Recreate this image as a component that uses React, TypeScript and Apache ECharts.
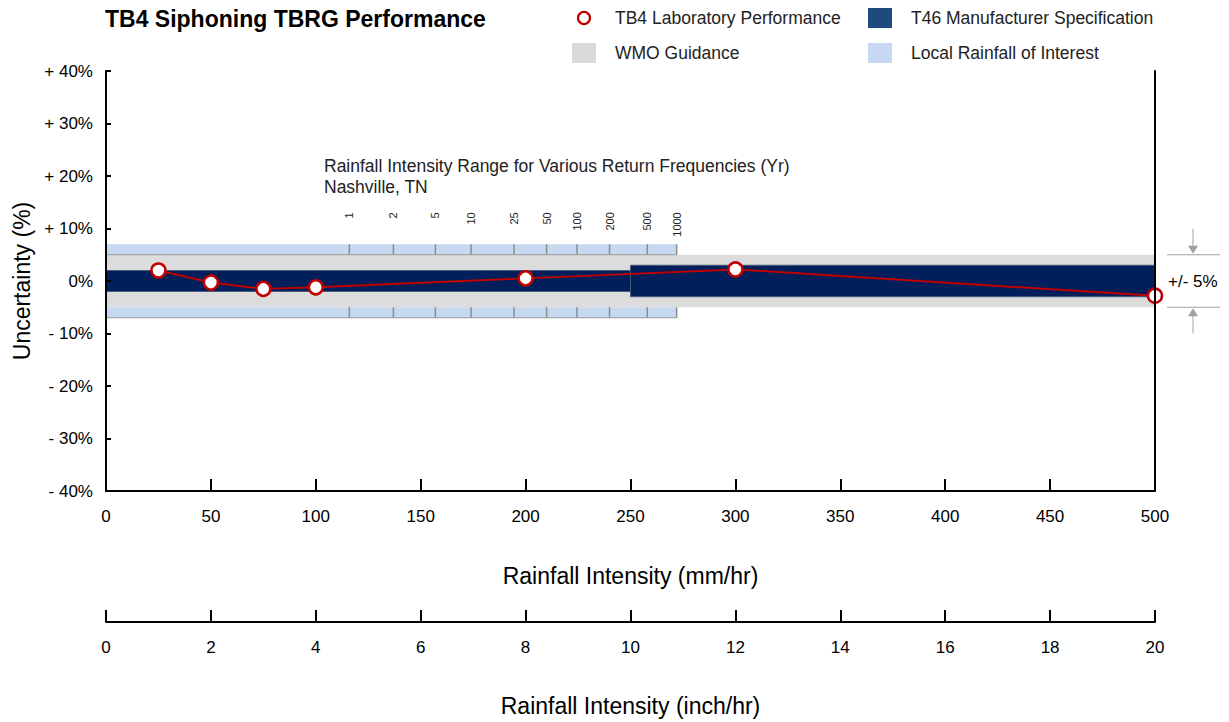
import React, { useEffect, useRef } from 'react';
import * as echarts from 'echarts';

const FONT = '"Liberation Sans", Arial, sans-serif';

// Measured performance
const intensityMm = [25, 50, 75, 100, 200, 300, 500];
const uncertaintyPct = [2.0, -0.3, -1.5, -1.2, 0.5, 2.2, -2.8];

// Bands: [xStart, xEnd, yLow, yHigh]
const wmoBand = [[0, 500, -5, 5]];
const localBand = [[0, 272, 5, 7], [0, 272, -7, -5]];
const specBand = [[0, 250, -2, 2], [250, 500, -3, 3]];

// Return frequencies (Yr) and their rainfall intensities (mm/hr)
const returnPeriods = ['1', '2', '5', '10', '25', '50', '100', '200', '500', '1000'];
const returnIntensity = [116, 137, 157, 174, 194.5, 210, 224.5, 240, 258, 272];

// Axis ranges
const mmAxis = { min: 0, max: 500, interval: 50 };
const inchAxis = { min: 0, max: 20, interval: 2 };
const pctAxis = { min: -40, max: 40, interval: 10 };

const legendItems = [
  { name: 'TB4 Laboratory Performance', kind: 'circle', color: '#c00000' },
  { name: 'T46 Manufacturer Specification', kind: 'rect', color: '#1f4a7e' },
  { name: 'WMO Guidance', kind: 'rect', color: '#d9d9d9' },
  { name: 'Local Rainfall of Interest', kind: 'rect', color: '#c6d9f1' },
];

const bandRender = (fill: string, stroke: string | null) => (params: any, api: any) => {
  const p0 = api.coord([api.value(0), api.value(3)]);
  const p1 = api.coord([api.value(1), api.value(2)]);
  return {
    type: 'rect',
    shape: { x: p0[0], y: p0[1], width: p1[0] - p0[0], height: p1[1] - p0[1] },
    style: { fill, stroke: stroke || undefined, lineWidth: stroke ? 1 : 0 },
  };
};

export default function App() {
  const ref = useRef<HTMLDivElement>(null);
  useEffect(() => {
    if (!ref.current) return;
    const chart = echarts.init(ref.current, null, { renderer: 'svg' });
    const axisLineStyle = { color: '#000', width: 2 };
    const option: any = {
      animation: false,
      backgroundColor: '#fff',
      title: {
        text: 'TB4 Siphoning TBRG Performance',
        left: 100,
        top: 2,
        textStyle: { fontFamily: FONT, fontSize: 23, fontWeight: 'bold', color: '#000' },
      },
      grid: { left: 106, right: 74, top: 71, bottom: 230, containLabel: false },
      xAxis: [
        {
          type: 'value',
          ...mmAxis,
          position: 'bottom',
          axisLine: { show: true, onZero: false, lineStyle: axisLineStyle },
          axisTick: { show: true, inside: true, length: 12, lineStyle: axisLineStyle },
          axisLabel: { fontFamily: FONT, fontSize: 17, color: '#000', margin: 17 },
          splitLine: { show: false },
          name: 'Rainfall Intensity (mm/hr)',
          nameLocation: 'middle',
          nameGap: 73,
          nameTextStyle: { fontFamily: FONT, fontSize: 23, color: '#000' },
          z: 10,
        },
        {
          type: 'value',
          ...inchAxis,
          position: 'bottom',
          offset: 131,
          axisLine: { show: true, onZero: false, lineStyle: axisLineStyle },
          axisTick: { show: true, inside: true, length: 12, lineStyle: axisLineStyle },
          axisLabel: { fontFamily: FONT, fontSize: 17, color: '#000', margin: 17 },
          splitLine: { show: false },
          name: 'Rainfall Intensity (inch/hr)',
          nameLocation: 'middle',
          nameGap: 72,
          nameTextStyle: { fontFamily: FONT, fontSize: 23, color: '#000' },
        },
      ],
      yAxis: [
        {
          type: 'value',
          ...pctAxis,
          axisLine: { show: true, onZero: false, lineStyle: axisLineStyle },
          axisTick: { show: true, inside: true, length: 5, lineStyle: axisLineStyle },
          axisLabel: {
            fontFamily: FONT,
            fontSize: 17,
            color: '#000',
            margin: 13,
            formatter: (v: number) => (v > 0 ? `+ ${v}%` : v < 0 ? `- ${-v}%` : '0%'),
          },
          splitLine: { show: false },
          name: 'Uncertainty (%)',
          nameLocation: 'middle',
          nameGap: 72,
          nameTextStyle: { fontFamily: FONT, fontSize: 23, color: '#000' },
          z: 10,
        },
        {
          type: 'value',
          ...pctAxis,
          position: 'right',
          axisLine: { show: true, onZero: false, lineStyle: axisLineStyle },
          axisTick: { show: false },
          axisLabel: { show: false },
          splitLine: { show: false },
          z: 10,
        },
      ],
      series: [
        {
          type: 'custom',
          name: 'WMO Guidance',
          data: wmoBand,
          encode: { x: [0, 1], y: [2, 3] },
          renderItem: bandRender('#dcdcdc', null),
          z: 1,
          silent: true,
        },
        {
          type: 'custom',
          name: 'Local Rainfall of Interest',
          data: localBand,
          encode: { x: [0, 1], y: [2, 3] },
          renderItem: bandRender('#c6d9f1', null),
          z: 1,
          silent: true,
        },
        {
          type: 'custom',
          name: 'T46 Manufacturer Specification',
          data: specBand,
          encode: { x: [0, 1], y: [2, 3] },
          renderItem: bandRender('#001f5b', '#4a5a78'),
          z: 2,
          silent: true,
        },
        {
          type: 'custom',
          name: 'Return Frequencies',
          data: returnIntensity.map((v) => [v]),
          encode: { x: 0 },
          z: 3,
          silent: true,
          renderItem: (params: any, api: any) => {
            const x = api.value(0);
            const top = localBand[0];
            const bot = localBand[1];
            const a = api.coord([x, top[3]]);
            const b = api.coord([x, top[2]]);
            const c = api.coord([x, bot[3]]);
            const d = api.coord([x, bot[2]]);
            return {
              type: 'group',
              children: [
                { type: 'line', shape: { x1: a[0], y1: a[1], x2: b[0], y2: b[1] }, style: { stroke: '#8c8c8c', lineWidth: 1.5 } },
                { type: 'line', shape: { x1: c[0], y1: c[1], x2: d[0], y2: d[1] }, style: { stroke: '#8c8c8c', lineWidth: 1.5 } },
                {
                  type: 'text',
                  x: a[0],
                  y: a[1] - 32,
                  rotation: Math.PI / 2,
                  style: {
                    text: returnPeriods[params.dataIndex],
                    align: 'right',
                    verticalAlign: 'middle',
                    fontSize: 11,
                    fontFamily: FONT,
                    fill: '#222',
                  },
                },
              ],
            };
          },
        },
        {
          type: 'custom',
          name: 'Band edges',
          data: [[localBand[0][0], localBand[0][1], localBand[0][2]], [localBand[1][0], localBand[1][1], localBand[1][2]]],
          encode: { x: [0, 1], y: 2 },
          z: 3,
          silent: true,
          renderItem: (params: any, api: any) => {
            const p0 = api.coord([api.value(0), api.value(2)]);
            const p1 = api.coord([api.value(1), api.value(2)]);
            return { type: 'line', shape: { x1: p0[0], y1: p0[1], x2: p1[0], y2: p1[1] }, style: { stroke: '#9a9a9a', lineWidth: 1 } };
          },
        },
        {
          type: 'line',
          name: 'TB4 Laboratory Performance',
          data: intensityMm.map((x, i) => [x, uncertaintyPct[i]]),
          symbol: 'circle',
          symbolSize: 14,
          lineStyle: { color: '#c00000', width: 2 },
          itemStyle: { color: '#fff', borderColor: '#c00000', borderWidth: 2.5 },
          z: 5,
          clip: false,
        },
      ],
    };
    chart.setOption(option);

    const y5 = chart.convertToPixel({ yAxisIndex: 0 }, 5) as number;
    const ym5 = chart.convertToPixel({ yAxisIndex: 0 }, -5) as number;
    const ax = 1193;
    const graphics: any[] = [
      {
        type: 'text',
        left: 324,
        top: 155,
        style: {
          text: 'Rainfall Intensity Range for Various Return Frequencies (Yr)\nNashville, TN',
          fontFamily: FONT,
          fontSize: 17.5,
          lineHeight: 21,
          fill: '#222',
        },
      },
      { type: 'line', shape: { x1: 1167, y1: y5, x2: 1220, y2: y5 }, style: { stroke: '#a0a0a0', lineWidth: 1 } },
      { type: 'line', shape: { x1: 1167, y1: ym5, x2: 1220, y2: ym5 }, style: { stroke: '#a0a0a0', lineWidth: 1 } },
      { type: 'line', shape: { x1: ax, y1: y5 - 26, x2: ax, y2: y5 - 8 }, style: { stroke: '#a0a0a0', lineWidth: 1 } },
      { type: 'polygon', shape: { points: [[ax - 5, y5 - 9], [ax + 5, y5 - 9], [ax, y5 - 1]] }, style: { fill: '#a0a0a0' } },
      { type: 'line', shape: { x1: ax, y1: ym5 + 26, x2: ax, y2: ym5 + 8 }, style: { stroke: '#a0a0a0', lineWidth: 1 } },
      { type: 'polygon', shape: { points: [[ax - 5, ym5 + 9], [ax + 5, ym5 + 9], [ax, ym5 + 1]] }, style: { fill: '#a0a0a0' } },
      {
        type: 'text',
        x: 1168,
        y: (y5 + ym5) / 2,
        style: { text: '+/- 5%', fontFamily: FONT, fontSize: 17, fill: '#000', verticalAlign: 'middle' },
      },
    ];
    // Legend (two columns, two rows)
    const colX = [572, 868];
    const rowY = [18, 53];
    legendItems.forEach((it, i) => {
      const cx = colX[i % 2];
      const cy = rowY[Math.floor(i / 2)];
      if (it.kind === 'circle') {
        graphics.push({
          type: 'circle',
          shape: { cx: cx + 12, cy, r: 6 },
          style: { fill: '#fff', stroke: it.color, lineWidth: 2.2 },
        });
      } else {
        graphics.push({
          type: 'rect',
          shape: { x: cx, y: cy - 10, width: 24, height: 20 },
          style: { fill: it.color },
        });
      }
      graphics.push({
        type: 'text',
        x: cx + 43,
        y: cy,
        style: { text: it.name, fontFamily: FONT, fontSize: 17.5, fill: '#222', verticalAlign: 'middle' },
      });
    });
    chart.setOption({ graphic: graphics });

    return () => chart.dispose();
  }, []);
  return <div ref={ref} style={{ position: 'absolute', left: 0, top: 0, width: 1229, height: 722 }} />;
}
